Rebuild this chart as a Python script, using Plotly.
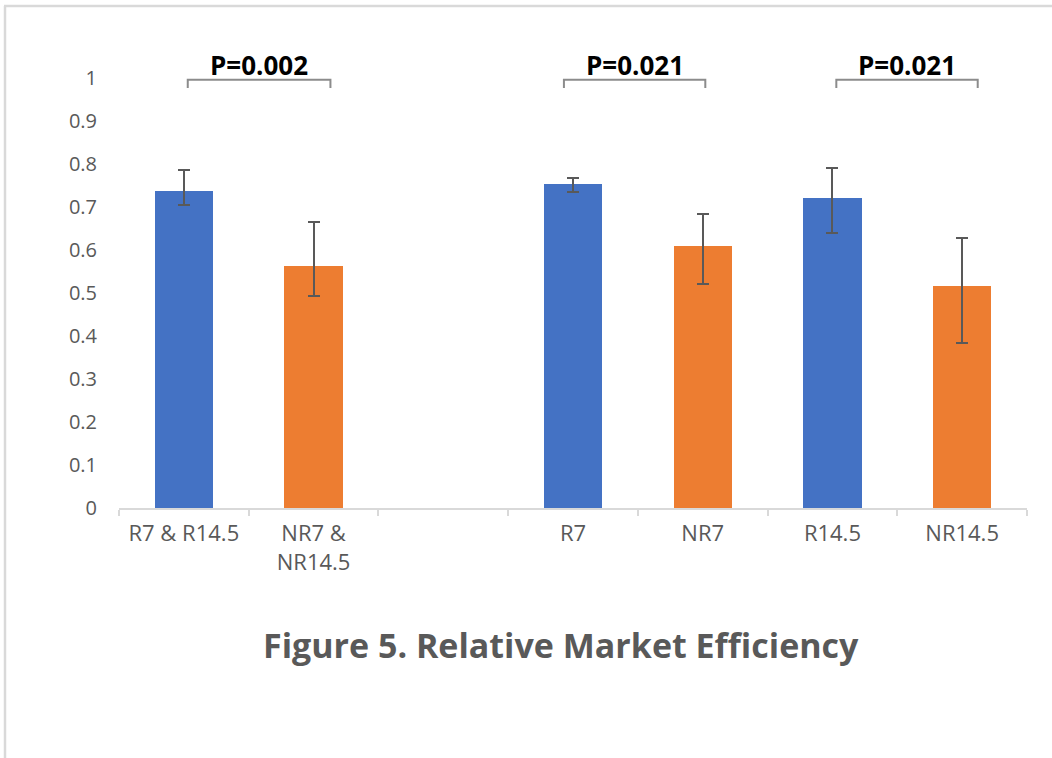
import plotly.graph_objects as go

# Categories along the x axis (the blank one separates the pooled pair from the split groups)
categories = ["R7 & R14.5", "NR7 &<br>NR14.5", " ", "R7", "NR7", "R14.5", "NR14.5"]
bar_categories = ["R7 & R14.5", "NR7 &<br>NR14.5", "R7", "NR7", "R14.5", "NR14.5"]
efficiency = [0.737, 0.563, 0.753, 0.609, 0.720, 0.516]
err_plus = [0.050, 0.101, 0.015, 0.074, 0.071, 0.113]
err_minus = [0.033, 0.069, 0.018, 0.087, 0.080, 0.132]
bar_colors = ["#4472C4", "#ED7D31", "#4472C4", "#ED7D31", "#4472C4", "#ED7D31"]

y_ticks = [0, 0.1, 0.2, 0.3, 0.4, 0.5, 0.6, 0.7, 0.8, 0.9, 1]
y_tick_text = ["0", "0.1", "0.2", "0.3", "0.4", "0.5", "0.6", "0.7", "0.8", "0.9", "1"]

# Significance brackets: (left index, right index, label)
brackets = [(0.03, 1.13, "P=0.002"), (2.93, 4.02, "P=0.021"), (5.03, 6.12, "P=0.021")]

W, H = 1052, 758
ML, MR, MT, MB = 119, 25, 78, 250
FONT = "Open Sans, Noto Sans, sans-serif"
GREY = "#595959"

pw = W - ML - MR
ph = H - MT - MB

def px_x(px):
    return (px - ML) / pw

def px_y(py):
    return (H - MB - py) / ph

fig = go.Figure()
fig.add_trace(go.Bar(
    x=bar_categories,
    y=efficiency,
    width=0.45,
    marker=dict(color=bar_colors, line=dict(width=0)),
    error_y=dict(type="data", symmetric=False, array=err_plus, arrayminus=err_minus,
                 color=GREY, thickness=2, width=6),
    showlegend=False,
    hoverinfo="x+y",
))

for x0, x1, label in brackets:
    fig.add_shape(type="path",
                  path=f"M {x0},0.977 L {x0},0.996 L {x1},0.996 L {x1},0.977",
                  xref="x", yref="y", line=dict(color="#8C8C8C", width=2))
    fig.add_annotation(x=(x0 + x1) / 2, y=px_y(65), xref="x", yref="paper",
                       text=f"<b>{label}</b>", showarrow=False,
                       font=dict(family=FONT, size=26, color="#000000"),
                       xanchor="center", yanchor="middle")

# Chart frame: top and left edges
fig.add_shape(type="line", xref="paper", yref="paper",
              x0=px_x(4), x1=px_x(W + 5), y0=px_y(6), y1=px_y(6),
              line=dict(color="#D9D9D9", width=2.5))
fig.add_shape(type="line", xref="paper", yref="paper",
              x0=px_x(5), x1=px_x(5), y0=px_y(6), y1=px_y(H + 5),
              line=dict(color="#D9D9D9", width=2.5))

fig.add_annotation(x=px_x(561), y=px_y(645), xref="paper", yref="paper",
                   text="<b>Figure 5. Relative Market Efficiency</b>", showarrow=False,
                   font=dict(family=FONT, size=34, color=GREY),
                   xanchor="center", yanchor="middle")

fig.update_layout(
    width=W, height=H,
    margin=dict(l=ML, r=MR, t=MT, b=MB, pad=0),
    paper_bgcolor="white", plot_bgcolor="white",
    font=dict(family=FONT, color=GREY, size=20),
    bargap=0,
    xaxis=dict(
        type="category", categoryorder="array", categoryarray=categories,
        range=[-0.5, 6.5], showgrid=False, zeroline=False,
        showline=True, linecolor="#D9D9D9", linewidth=2,
        ticks="outside", tickson="boundaries", ticklen=6, tickcolor="#D9D9D9", tickwidth=2,
        ticklabelstandoff=5,
        tickfont=dict(family=FONT, size=22, color=GREY),
    ),
    yaxis=dict(
        range=[0, 1], tickvals=y_ticks, ticktext=y_tick_text,
        showgrid=False, zeroline=False, showline=False, ticks="",
        ticklabelstandoff=21,
        tickfont=dict(family=FONT, size=20, color=GREY),
    ),
)

fig.write_html("out.html")
